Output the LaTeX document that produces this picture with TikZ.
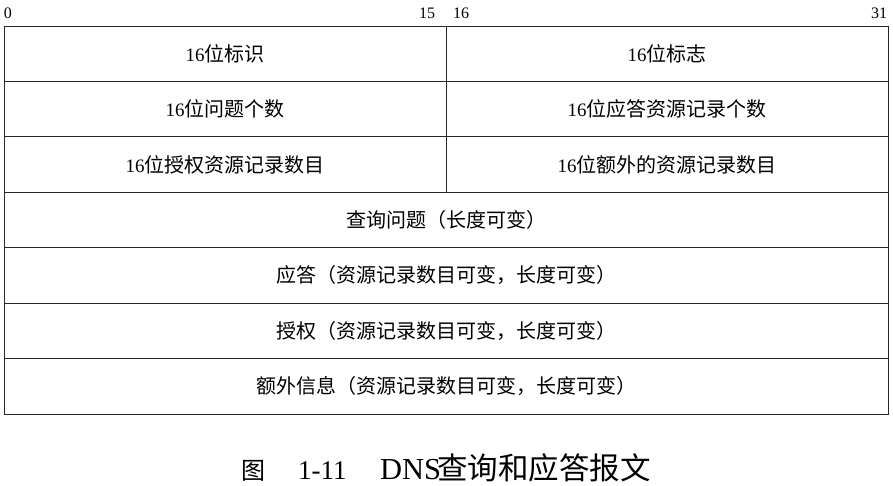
\documentclass[tikz,border=0pt]{standalone}
\usepackage{fontspec}
\setmainfont{Liberation Serif}
\newfontfamily\cjk{Noto Sans CJK SC}
\newcommand{\dg}[1]{{\fontsize{19}{22}\selectfont #1}}
\begin{document}
\begin{tikzpicture}[x=1pt,y=-1pt,
  cell/.style={font=\fontsize{20}{22}\selectfont, inner sep=0pt, anchor=center},
  bitlbl/.style={font=\fontsize{16}{18}\selectfont, inner sep=0pt, anchor=center},
  captxt/.style={inner sep=0pt, anchor=base west},
  grid/.style={line width=0.9pt, draw=black!85}]
\useasboundingbox (0,0) rectangle (893,486);
% frame
\draw[grid] (4,26) rectangle (888,414);
\foreach \y in {81.4,136.9,192.3,247.7,303.1,358.6}{\draw[grid] (4,\y) -- (888,\y);}
\draw[grid] (446,26) -- (446,192.3);
% bit labels
\node[bitlbl] (b0) at (8,13) {0};
\node[bitlbl] (b15) at (427,13) {15};
\node[bitlbl] (b16) at (461,13) {16};
\node[bitlbl] (b31) at (879,13) {31};
% cells
\node[cell] (c1) at (225,53.7) {\dg{16}{\cjk 位标识}};
\node[cell] (c2) at (667,53.7) {\dg{16}{\cjk 位标志}};
\node[cell] (c3) at (225,109.1) {\dg{16}{\cjk 位问题个数}};
\node[cell] (c4) at (667,109.1) {\dg{16}{\cjk 位应答资源记录个数}};
\node[cell] (c5) at (225,164.6) {\dg{16}{\cjk 位授权资源记录数目}};
\node[cell] (c6) at (667,164.6) {\dg{16}{\cjk 位额外的资源记录数目}};
\node[cell] (c7) at (446,220) {{\cjk 查询问题（长度可变）}};
\node[cell] (c8) at (446,275.4) {{\cjk 应答（资源记录数目可变，长度可变）}};
\node[cell] (c9) at (446,330.9) {{\cjk 授权（资源记录数目可变，长度可变）}};
\node[cell] (c10) at (446,386.3) {{\cjk 额外信息（资源记录数目可变，长度可变）}};
% caption
\node[captxt, font=\fontsize{24}{26}\selectfont\cjk] (cap1) at (241,479.5) {图};
\node[captxt, font=\fontsize{27}{29}\selectfont] (cap2) at (298,479.5) {1-11};
\node[captxt, font=\fontsize{30.5}{32}\selectfont] (cap3) at (380,479.5) {DNS};
\node[captxt, font=\fontsize{30.5}{32}\selectfont\cjk] (cap4) at (437,479.5) {查询和应答报文};
\end{tikzpicture}
\end{document}
